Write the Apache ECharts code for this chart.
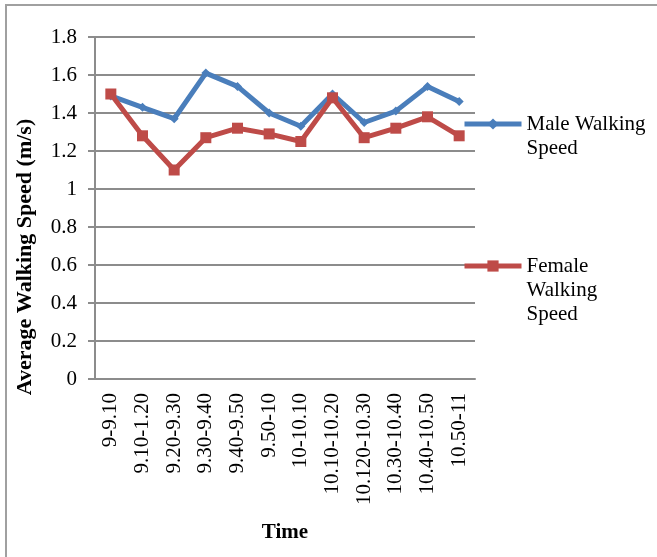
<!DOCTYPE html>
<html>
<head>
<meta charset="utf-8">
<script src="https://cdn.jsdelivr.net/npm/echarts@6/dist/echarts.min.js"></script>
<style>
html,body{margin:0;padding:0;background:#fff;}
#chart{width:657px;height:557px;}
</style>
</head>
<body>
<div id="chart"></div>
<script>
const categories = ['9-9.10','9.10-1.20','9.20-9.30','9.30-9.40','9.40-9.50','9.50-10','10-10.10','10.10-10.20','10.120-10.30','10.30-10.40','10.40-10.50','10.50-11'];
const maleSpeed = [1.49,1.43,1.37,1.61,1.54,1.40,1.33,1.50,1.35,1.41,1.54,1.46];
const femaleSpeed = [1.50,1.28,1.10,1.27,1.32,1.29,1.25,1.48,1.27,1.32,1.38,1.28];
const maleName = 'Male Walking Speed';
const femaleName = 'Female Walking Speed';
const yTitle = 'Average Walking Speed (m/s)';
const xTitle = 'Time';

const FONT = '"Liberation Serif", "Times New Roman", serif';
const GRID = '#8c8c8c';
const chart = echarts.init(document.getElementById('chart'), null, {renderer:'canvas'});
chart.setOption({
  animation:false,
  backgroundColor:'#fff',
  textStyle:{fontFamily:FONT, color:'#000'},
  grid:{left:95, right:182, top:37, bottom:178, containLabel:false},
  graphic:[
    {type:'rect', shape:{x:6, y:5, width:700, height:600}, style:{fill:'none', stroke:'#a0a0a0', lineWidth:2}, silent:true},
    {type:'text', x:25, y:257, rotation:Math.PI/2, style:{text:yTitle, font:'bold 22px ' + FONT, fill:'#000', align:'center', verticalAlign:'middle'}}
  ],
  legend:[
    {data:[maleName], orient:'vertical', left:462, top:88, padding:0, itemWidth:57, itemHeight:14, itemGap:0,
     formatter:()=> '\nMale Walking\nSpeed',
     lineStyle:{width:5},
     textStyle:{fontFamily:FONT, fontSize:21, color:'#000', lineHeight:24}},
    {data:[femaleName], orient:'vertical', left:462, top:206, padding:0, itemWidth:57, itemHeight:14, itemGap:0,
     formatter:()=> '\n\nFemale\nWalking\nSpeed',
     lineStyle:{width:5},
     textStyle:{fontFamily:FONT, fontSize:21, color:'#000', lineHeight:24}}
  ],
  xAxis:{
    type:'category', data:categories, boundaryGap:true,
    name:xTitle, nameLocation:'middle', nameGap:143,
    nameTextStyle:{fontFamily:FONT, fontSize:21, fontWeight:'bold', color:'#000'},
    axisLine:{lineStyle:{color:GRID, width:2}},
    axisTick:{show:false},
    axisLabel:{rotate:90, margin:14, fontFamily:FONT, fontSize:21, color:'#000', interval:0}
  },
  yAxis:{
    type:'value', min:0, max:1.8, interval:0.2,
    axisLine:{show:true, lineStyle:{color:GRID, width:2}},
    axisTick:{show:true, inside:false, length:7, lineStyle:{color:GRID, width:2}},
    splitLine:{show:true, lineStyle:{color:GRID, width:2}},
    axisLabel:{margin:18, fontFamily:FONT, fontSize:21, color:'#000',
      formatter:v=> String(Math.round(v*10)/10)}
  },
  series:[
    {name:maleName, type:'line', data:maleSpeed, symbol:'diamond', symbolSize:9,
     lineStyle:{color:'#4a7ebb', width:5}, itemStyle:{color:'#4a7ebb'}},
    {name:femaleName, type:'line', data:femaleSpeed, symbol:'rect', symbolSize:11,
     lineStyle:{color:'#be4b48', width:5}, itemStyle:{color:'#be4b48'}}
  ]
});
</script>
</body>
</html>
